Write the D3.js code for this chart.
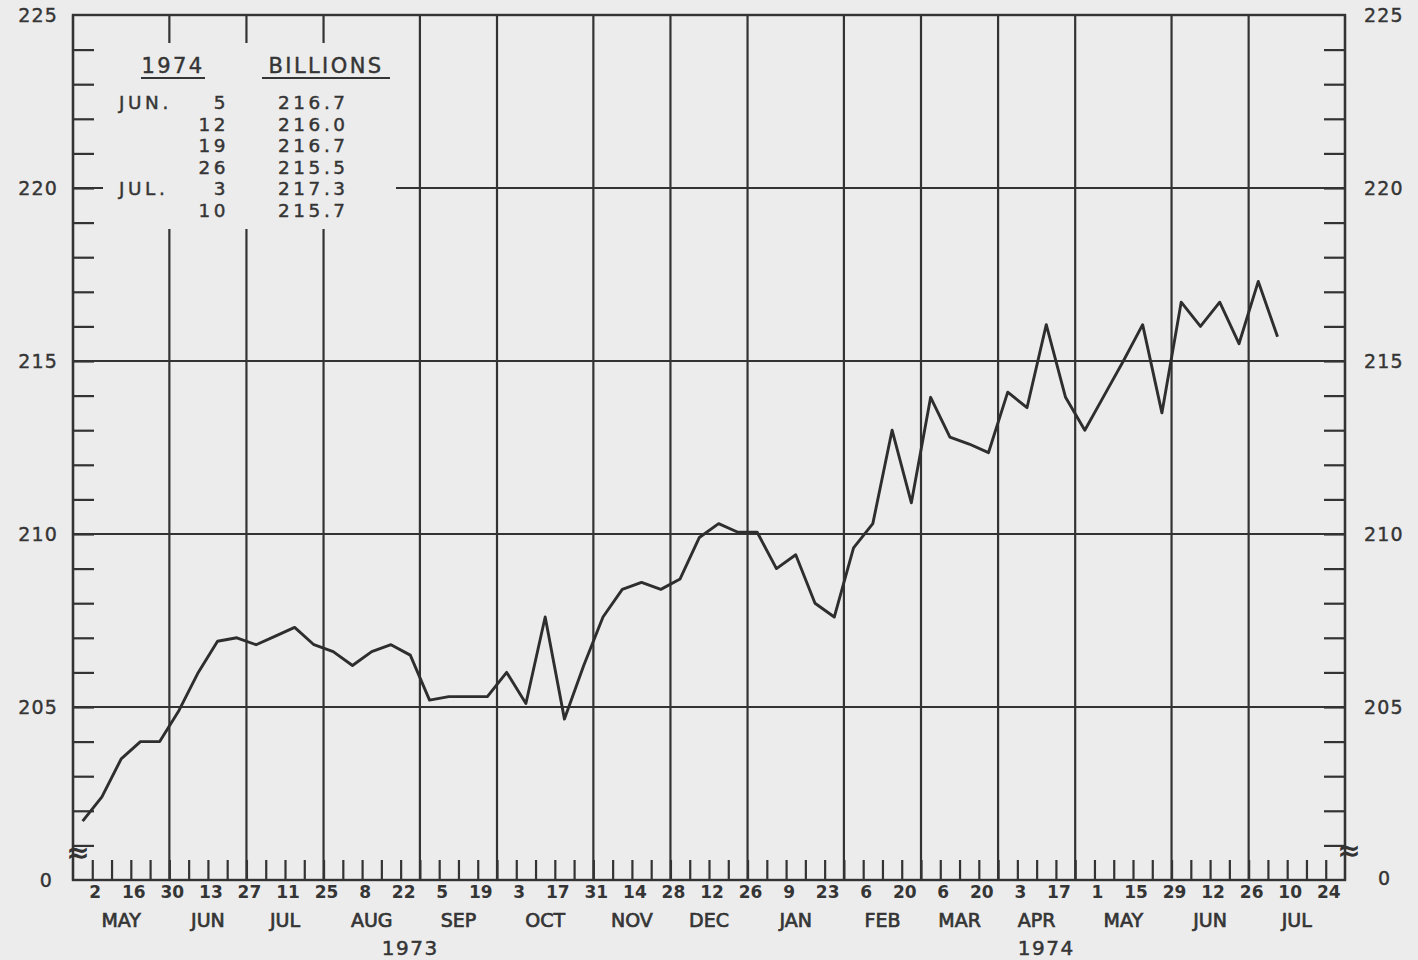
<!DOCTYPE html>
<html><head><meta charset="utf-8">
<script src="https://cdn.jsdelivr.net/npm/d3@7"></script>
<style>body{margin:0;background:#ececec;} svg{display:block}</style>
</head><body>
<svg id="c" width="1418" height="960"></svg>
<script>
// ---- data ----
const axisStart = "1973-04-25";      // left edge of weekly axis (Wednesday)
const axisEnd = "1974-07-31";        // right edge
const firstWeek = "1973-05-02";      // week of first value
const values = [201.7,202.4,203.5,204.0,204.0,204.9,206.0,206.9,207.0,206.8,
  207.05,207.3,206.8,206.6,206.2,206.6,206.8,206.5,205.2,205.3,
  205.3,205.3,206.0,205.1,207.6,204.65,206.2,207.6,208.4,208.6,
  208.4,208.7,209.9,210.3,210.05,210.05,209.0,209.4,208.0,207.6,
  209.6,210.3,213.0,210.9,213.95,212.8,212.6,212.35,214.1,213.65,
  216.05,213.95,213.0,214.0,215.0,216.05,213.5,216.7,216.0,216.7,
  215.5,217.3,215.7];
const yMajor = [205,210,215,220,225];
const dayLabels = ["2","16","30","13","27","11","25","8","22","5","19","3","17","31","14","28",
  "12","26","9","23","6","20","6","20","3","17","1","15","29","12","26","10","24"];
const monthLabels = ["MAY","JUN","JUL","AUG","SEP","OCT","NOV","DEC","JAN","FEB","MAR","APR","MAY","JUN","JUL"];
const yearLabels = ["1973","1974"];
const tableHeader = ["1974","BILLIONS"];
const tableMonths = ["JUN.","","","","JUL.",""];
const tableDays = ["5","12","19","26","3","10"];
const tableValues = ["216.7","216.0","216.7","215.5","217.3","215.7"];

// ---- setup ----
const ink = "#333", txt = "#353535", bg = "#ececec";
const svg = d3.select("#c");
svg.append("rect").attr("width",1418).attr("height",960).attr("fill",bg);
const parse = d3.utcParse("%Y-%m-%d");
const t0 = parse(axisStart), t1 = parse(axisEnd);
const L = 73, R = 1345, T = 15, B = 880;
const x = d3.scaleUtc().domain([t0, t1]).range([L, R]);
const y = d3.scaleLinear().domain([200, 225]).range([B, T]);

const nWeeks = Math.round((t1 - t0) / (7*864e5));
const weeks = d3.range(nWeeks + 1).map(i => d3.utcDay.offset(t0, 7*i));
const boundaries = weeks.filter(d => d3.utcDay.offset(d, 7).getUTCMonth() !== d.getUTCMonth());

const g = svg.append("g");
g.selectAll("line.h").data(yMajor.filter(v => v < 225)).join("line")
  .attr("x1", L).attr("x2", R).attr("y1", d => y(d)).attr("y2", d => y(d))
  .attr("stroke", ink).attr("stroke-width", 2.2);
g.selectAll("line.v").data(boundaries).join("line")
  .attr("x1", d => x(d)).attr("x2", d => x(d)).attr("y1", T).attr("y2", B)
  .attr("stroke", ink).attr("stroke-width", 2.2);
g.append("rect").attr("x", L).attr("y", T).attr("width", R - L).attr("height", B - T)
  .attr("fill", "none").attr("stroke", ink).attr("stroke-width", 2.4);

const minor = d3.range(201, 225);
const axL = svg.append("g").attr("transform", `translate(${L},0)`)
  .call(d3.axisLeft(y).tickValues(minor).tickSize(-21).tickSizeOuter(0).tickFormat(""));
const axR = svg.append("g").attr("transform", `translate(${R},0)`)
  .call(d3.axisRight(y).tickValues(minor).tickSize(-21).tickSizeOuter(0).tickFormat(""));
[axL, axR].forEach(a => { a.select(".domain").remove();
  a.selectAll("line").attr("stroke", ink).attr("stroke-width", 2.2); });

const axB = svg.append("g").attr("transform", `translate(0,${B})`)
  .call(d3.axisBottom(x).tickValues(weeks.slice(1, -1)).tickSize(-20).tickSizeOuter(0).tickFormat(""));
axB.select(".domain").remove();
axB.selectAll("line").attr("stroke", ink).attr("stroke-width", 2.2);

// mask behind table
svg.append("rect").attr("x", 103).attr("y", 43).attr("width", 293).attr("height", 186).attr("fill", bg);

// data line
const pts = values.map((v, i) => [d3.utcHour.offset(d3.utcDay.offset(parse(firstWeek), 7*i), -84), v]);
svg.append("path").datum(pts)
  .attr("d", d3.line().x(d => x(d[0])).y(d => y(d[1])))
  .attr("fill", "none").attr("stroke", "#2e2e2e").attr("stroke-width", 2.9).attr("stroke-linejoin", "round");

const font = "'DejaVu Sans', sans-serif";
const yl = svg.append("g").attr("font-family", font).attr("font-size", 19).attr("fill", txt)
  .attr("letter-spacing", 1.2).attr("stroke", txt).attr("stroke-width", 0.4);
yl.selectAll("text.l").data(yMajor).join("text").attr("x", 58).attr("y", d => y(d) + 7)
  .attr("text-anchor", "end").text(d => d);
yl.selectAll("text.r").data(yMajor).join("text").attr("x", 1364).attr("y", d => y(d) + 7)
  .attr("text-anchor", "start").text(d => d);
yl.append("text").attr("x", 53).attr("y", B + 7).attr("text-anchor", "end").text("0");
yl.append("text").attr("x", 1378).attr("y", B + 5).attr("text-anchor", "start").text("0");

svg.append("text").attr("x", 78).attr("y", 862).attr("text-anchor", "middle")
  .attr("font-family", font).attr("font-size", 28).attr("font-weight", "bold").attr("fill", ink).text("≈");
svg.append("text").attr("x", 1349).attr("y", 860).attr("text-anchor", "middle")
  .attr("font-family", font).attr("font-size", 28).attr("font-weight", "bold").attr("fill", ink).text("≈");

const xl = svg.append("g").attr("font-family", font).attr("fill", txt).attr("font-weight", "bold").attr("text-anchor", "middle");
xl.selectAll("text.d").data(dayLabels).join("text")
  .attr("x", (d, i) => x(weeks[2*i + 1]) + 3).attr("y", 898).attr("font-size", 17).text(d => d);
const monthMid = d3.range(boundaries.length - 1).map(i => new Date((+boundaries[i] + +boundaries[i+1]) / 2));
xl.selectAll("text.m").data(monthLabels).join("text")
  .attr("x", (d, i) => x(monthMid[i])).attr("y", 927).attr("font-size", 19).attr("font-weight", "normal")
  .attr("stroke", txt).attr("stroke-width", 0.7).text(d => d);
const yearSpans = d3.groups(d3.range(monthMid.length), i => monthMid[i].getUTCFullYear())
  .map(([yr, idx]) => new Date((+boundaries[idx[0]] + +boundaries[idx[idx.length - 1] + 1]) / 2));
xl.selectAll("text.y").data(yearLabels).join("text")
  .attr("x", (d, i) => x(yearSpans[i])).attr("y", 955).attr("font-size", 20).attr("font-weight", "normal")
  .attr("letter-spacing", 1.5).attr("stroke", txt).attr("stroke-width", 0.5).text(d => d);

// table
const tb = svg.append("g").attr("font-family", font).attr("fill", txt)
  .attr("stroke", txt).attr("stroke-width", 0.45);
tb.append("text").attr("x", 173).attr("y", 73).attr("text-anchor", "middle")
  .attr("font-size", 21).attr("letter-spacing", 2.4).text(tableHeader[0]);
tb.append("text").attr("x", 326).attr("y", 73).attr("text-anchor", "middle")
  .attr("font-size", 21).attr("letter-spacing", 2.4).text(tableHeader[1]);
tb.append("line").attr("x1", 141).attr("x2", 205).attr("y1", 78).attr("y2", 78).attr("stroke", txt).attr("stroke-width", 2);
tb.append("line").attr("x1", 262).attr("x2", 390).attr("y1", 78).attr("y2", 78).attr("stroke", txt).attr("stroke-width", 2);
const rowY = i => 109 + i * 21.6;
const cells = tb.append("g").attr("font-size", 18.4).attr("letter-spacing", 3.6);
cells.selectAll("text.mo").data(tableMonths).join("text").attr("x", 119).attr("y", (d, i) => rowY(i)).text(d => d);
cells.selectAll("text.dy").data(tableDays).join("text").attr("x", 229).attr("y", (d, i) => rowY(i))
  .attr("text-anchor", "end").text(d => d);
cells.selectAll("text.vl").data(tableValues).join("text").attr("x", 278).attr("y", (d, i) => rowY(i)).text(d => d);
</script>
</body></html>
